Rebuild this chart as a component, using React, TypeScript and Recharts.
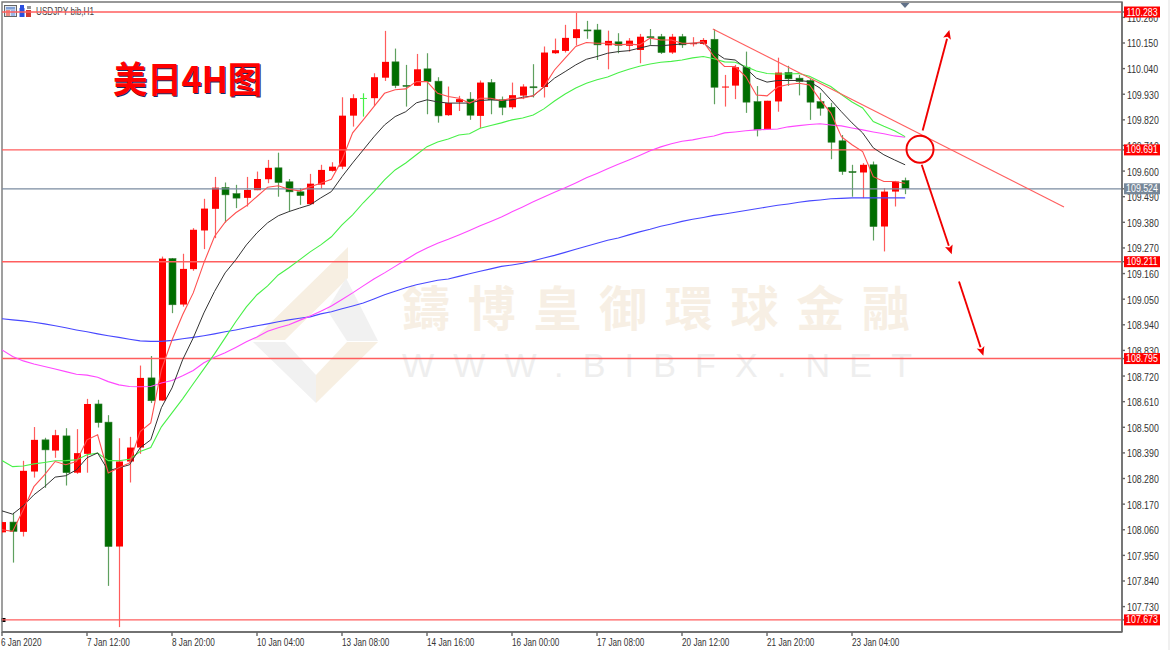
import React from 'react';
import { ComposedChart, Bar, Line, XAxis, YAxis, ReferenceLine, ReferenceDot, ReferenceArea } from 'recharts';

const opens = [108.049,108.093,108.051,108.310,108.446,108.400,108.463,108.305,108.386,108.600,
108.522,107.988,108.353,108.413,108.712,108.615,109.224,109.027,109.179,109.345,
109.438,109.529,109.503,109.485,109.518,109.565,109.614,109.554,109.511,109.458,
109.542,109.601,109.619,109.838,109.914,109.913,110.001,110.069,109.968,109.966,
110.039,109.986,109.840,109.896,109.909,109.837,109.980,109.906,109.874,109.924,
109.962,109.961,110.106,110.116,110.171,110.206,110.206,110.140,110.155,110.138,
110.120,110.177,110.177,110.109,110.177,110.145,110.146,110.166,109.959,109.967,
110.046,109.898,109.780,109.899,110.023,109.999,109.989,109.898,109.874,109.730,
109.598,109.594,109.627,109.362,109.512,109.559];
const highs = [108.094,108.133,108.356,108.501,108.455,108.489,108.496,108.492,108.622,108.618,
108.552,108.453,108.459,108.765,108.806,109.233,109.227,109.245,109.355,109.481,
109.575,109.551,109.541,109.575,109.598,109.648,109.679,109.566,109.527,109.588,
109.627,109.638,109.917,109.930,109.934,110.020,110.202,110.126,110.056,110.103,
110.106,110.003,109.963,109.923,109.939,109.989,109.995,109.920,109.980,109.973,
110.059,110.135,110.169,110.228,110.279,110.245,110.232,110.203,110.192,110.171,
110.189,110.210,110.189,110.189,110.189,110.175,110.171,110.210,110.013,110.056,
110.113,109.965,109.902,110.087,110.052,110.013,109.996,109.936,109.893,109.755,
109.627,109.634,109.641,109.527,109.558,109.572];
const lows = [108.047,107.919,108.031,108.284,108.240,108.369,108.250,108.300,108.305,108.499,
107.819,107.642,108.263,108.386,108.604,108.614,108.990,109.018,109.172,109.265,
109.312,109.379,109.441,109.448,109.518,109.548,109.490,109.429,109.455,109.455,
109.524,109.598,109.608,109.791,109.834,109.880,109.987,109.956,109.877,109.966,
109.844,109.808,109.837,109.858,109.820,109.784,109.844,109.840,109.866,109.909,
109.916,109.916,110.103,110.109,110.139,110.168,110.077,110.037,110.106,110.113,
110.063,110.142,110.103,110.103,110.129,110.135,110.142,109.887,109.877,109.909,
109.850,109.749,109.780,109.855,109.966,109.925,109.820,109.838,109.651,109.584,
109.490,109.484,109.302,109.255,109.448,109.501];
const closes = [108.093,108.053,108.313,108.446,108.403,108.466,108.305,108.389,108.600,108.520,
107.988,108.353,108.413,108.712,108.614,109.224,109.026,109.180,109.348,109.439,
109.529,109.498,109.484,109.519,109.566,109.614,109.551,109.511,109.495,109.546,
109.605,109.619,109.838,109.913,109.912,110.003,110.069,109.967,109.966,110.037,
109.984,109.837,109.892,109.909,109.840,109.980,109.906,109.874,109.926,109.963,
109.960,110.109,110.119,110.172,110.209,110.204,110.142,110.159,110.140,110.160,
110.177,110.174,110.109,110.177,110.142,110.149,110.163,109.960,109.963,110.046,
109.896,109.777,109.902,110.023,109.996,109.985,109.896,109.870,109.724,109.598,
109.596,109.627,109.362,109.512,109.555,109.524];

const maRed = [108.060,108.053,108.146,108.245,108.296,108.353,108.339,108.353,108.446,108.468,
108.304,108.326,108.347,108.482,108.519,108.747,108.875,108.983,109.077,109.206,
109.319,109.381,109.421,109.451,109.491,109.531,109.537,109.522,109.515,109.533,
109.548,109.565,109.648,109.764,109.820,109.877,109.934,109.949,109.953,109.984,
109.984,109.934,109.920,109.913,109.892,109.913,109.913,109.903,109.913,109.913,
109.923,109.963,110.034,110.085,110.135,110.152,110.149,110.149,110.142,110.145,
110.142,110.171,110.163,110.163,110.149,110.149,110.156,110.092,110.049,110.049,
110.006,109.927,109.923,109.961,109.972,109.977,109.970,109.906,109.850,109.748,
109.713,109.684,109.576,109.555,109.555,109.548];
const maBlack = [108.141,108.127,108.163,108.210,108.245,108.286,108.292,108.317,108.369,108.390,
108.313,108.326,108.339,108.412,108.446,108.584,108.669,108.790,108.884,108.991,
109.083,109.163,109.219,109.283,109.335,109.378,109.408,109.426,109.441,109.455,
109.485,109.512,109.576,109.635,109.691,109.747,109.798,109.834,109.855,109.893,
109.906,109.897,109.892,109.892,109.892,109.903,109.906,109.903,109.906,109.917,
109.923,109.960,109.999,110.027,110.056,110.080,110.092,110.106,110.113,110.117,
110.128,110.139,110.138,110.142,110.146,110.149,110.152,110.113,110.082,110.077,
110.042,109.999,109.982,109.989,109.989,109.989,109.984,109.956,109.906,109.855,
109.807,109.764,109.700,109.670,109.648,109.627];
const maLime = [108.357,108.331,108.334,108.343,108.349,108.356,108.357,108.360,108.382,108.389,
108.357,108.356,108.363,108.396,108.413,108.502,108.562,108.622,108.687,108.751,
108.815,108.884,108.953,109.017,109.069,109.107,109.154,109.185,109.219,109.253,
109.283,109.318,109.369,109.412,109.464,109.511,109.562,109.605,109.635,109.670,
109.705,109.725,109.738,109.755,109.760,109.784,109.796,109.807,109.820,109.828,
109.841,109.867,109.901,109.931,109.957,109.977,109.992,110.004,110.022,110.037,
110.050,110.060,110.067,110.071,110.077,110.086,110.092,110.082,110.069,110.067,
110.049,110.030,110.019,110.017,110.017,110.019,110.007,109.985,109.963,109.929,
109.897,109.871,109.813,109.792,109.773,109.748];
const maMagenta = [108.832,108.804,108.785,108.772,108.761,108.750,108.739,108.728,108.724,108.715,
108.696,108.682,108.675,108.674,108.675,108.690,108.701,108.721,108.744,108.777,
108.801,108.820,108.843,108.867,108.888,108.912,108.927,108.940,108.959,108.978,
108.998,109.021,109.049,109.077,109.107,109.137,109.163,109.191,109.219,109.247,
109.270,109.290,109.307,109.326,109.345,109.365,109.384,109.403,109.425,109.446,
109.468,109.489,109.509,109.528,109.549,109.571,109.590,109.610,109.629,109.648,
109.667,109.687,109.704,109.717,109.728,109.734,109.743,109.751,109.764,109.768,
109.773,109.777,109.779,109.781,109.790,109.795,109.800,109.803,109.798,109.794,
109.785,109.777,109.768,109.760,109.751,109.745];
const maBlue = [108.966,108.961,108.957,108.951,108.944,108.936,108.927,108.918,108.910,108.901,
108.893,108.886,108.878,108.871,108.869,108.869,108.873,108.880,108.886,108.893,
108.901,108.910,108.918,108.927,108.936,108.944,108.953,108.961,108.968,108.974,
108.987,108.996,109.009,109.021,109.034,109.051,109.069,109.084,109.099,109.112,
109.122,109.131,109.137,109.148,109.159,109.170,109.180,109.191,109.197,109.204,
109.215,109.227,109.238,109.251,109.264,109.277,109.290,109.303,109.313,109.326,
109.339,109.350,109.363,109.373,109.384,109.393,109.401,109.410,109.416,109.423,
109.431,109.438,109.446,109.453,109.459,109.466,109.472,109.476,109.481,109.483,
109.485,109.485,109.485,109.485,109.485,109.485];

const xTickLabels = ['6 Jan 2020','7 Jan 12:00','8 Jan 20:00','10 Jan 04:00','13 Jan 08:00','14 Jan 16:00','16 Jan 00:00','17 Jan 08:00','20 Jan 12:00','21 Jan 20:00','23 Jan 04:00'];
const xTicks = xTickLabels.map((_, i) => i * 8);
const yTicks = [110.26,110.15,110.04,109.93,109.82,109.71,109.6,109.49,109.38,109.27,109.16,109.05,108.94,108.83,108.72,108.61,108.5,108.39,108.28,108.17,108.06,107.95,107.84,107.73];
const redLevels = [110.283, 109.691, 109.211, 108.795, 107.673];
const lastPrice = 109.524;
const X_DOMAIN: [number, number] = [0, 105.41];
const Y_DOMAIN: [number, number] = [107.621, 110.326];
const brightDoji = [34];

const trendLine = [{ x: 66.9, y: 110.21 }, { x: 99.95, y: 109.446 }];
const arrows = [
  [{ x: 86.65, y: 109.774 }, { x: 89.16, y: 110.206 }],
  [{ x: 86.56, y: 109.627 }, { x: 89.38, y: 109.243 }],
  [{ x: 90.07, y: 109.126 }, { x: 92.36, y: 108.807 }],
];
const circleMark = { x: 86.4, y: 109.694 };

const data = opens.map((o, i) => ({
  idx: i,
  open: o,
  high: highs[i],
  low: lows[i],
  close: closes[i],
  range: [lows[i], highs[i]],
  red: maRed[i],
  black: maBlack[i],
  lime: maLime[i],
  magenta: maMagenta[i],
  blue: maBlue[i],
}));

const AXIS_FONT = '"Liberation Sans",Arial,sans-serif';

function Candle(props: any) {
  const { x, y, width, height, payload } = props;
  const top = Math.min(y, y + height);
  const span = Math.abs(height);
  const k = span / Math.max(payload.high - payload.low, 0.0001);
  const cx = Math.round(x + width / 2) + 0.5;
  const bull = payload.close >= payload.open;
  const bodyTop = top + (payload.high - Math.max(payload.open, payload.close)) * k;
  const bodyH = Math.max(Math.abs(payload.open - payload.close) * k, 1);
  const bright = brightDoji.includes(payload.idx);
  const wick = bright ? '#44f044' : bull ? '#ff5c5c' : '#5fa05f';
  const fill = bright ? '#44f044' : bull ? '#ff0000' : '#006e00';
  return (
    <g>
      <line x1={cx} x2={cx} y1={top} y2={top + span} stroke={wick} strokeWidth={1.2} />
      <rect x={cx - 3.5} y={bodyTop} width={7} height={bodyH} fill={fill} stroke={bull || bright ? 'none' : '#2f7a2f'} strokeWidth={0.6} />
    </g>
  );
}

function Arrow(props: any) {
  const { x1, y1, x2, y2 } = props;
  const dx = x2 - x1;
  const dy = y2 - y1;
  const len = Math.hypot(dx, dy) || 1;
  const ux = dx / len;
  const uy = dy / len;
  const bx = x2 - ux * 9;
  const by = y2 - uy * 9;
  return (
    <g>
      <line x1={x1} y1={y1} x2={bx} y2={by} stroke="#f00000" strokeWidth={1.9} />
      <polygon points={`${x2},${y2} ${bx - uy * 4},${by + ux * 4} ${bx + ux * 2},${by + uy * 2} ${bx + uy * 4},${by - ux * 4}`} fill="#f00000" />
    </g>
  );
}

function XTick({ x, y, payload }: any) {
  const px = payload.value === 0 ? x - 1 : x;
  return (
    <text transform={`translate(${px},${y + 8}) scale(0.82,1)`} x={0} y={0} textAnchor="start" fontSize={10} fontFamily={AXIS_FONT} fill="#333">
      {xTickLabels[payload.value / 8]}
    </text>
  );
}

function YTick({ x, y, payload }: any) {
  const v = payload.value;
  const isLast = v === lastPrice;
  const isTag = isLast || redLevels.includes(v);
  if (isTag) {
    return (
      <g>
        <rect x={x - 3} y={y - 5.5} width={36} height={11} fill={isLast ? '#778899' : '#ff0000'} />
        <text transform={`translate(${x + 15},${y + 3.6}) scale(0.88,1)`} x={0} y={0} textAnchor="middle" fontSize={10} fontFamily={AXIS_FONT} fill="#fff">{v.toFixed(3)}</text>
      </g>
    );
  }
  return (
    <text transform={`translate(${x},${y + 4.5}) scale(0.88,1)`} x={0} y={0} textAnchor="start" fontSize={10} fontFamily={AXIS_FONT} fill="#333">
      {v.toFixed(3)}
    </text>
  );
}

const wmChars = '鑄博皇御環球金融'.split('');

function Backdrop() {
  return (
    <g>
      <rect x={1168} y={0} width={2} height={650} fill="#f0f0f0" />
      <polygon points="348,247 348,278 285,340 253,340" fill="#f7efe2" />
      <polygon points="253,342 285,342 316,375 316,403" fill="#f1f1f1" />
      <polygon points="327,310 346,278 378,341 347,341" fill="#f1f1f1" />
      <polygon points="347,342 378,342 316,403 316,375" fill="#f7efe2" />
      {wmChars.map((c, i) => (
        <text key={c} x={426 + i * 65.7} y={326} textAnchor="middle" fontSize={48} fontWeight={700} fontFamily='"Noto Sans CJK TC",sans-serif' fill="#f7efe4">{c}</text>
      ))}
      <text x={402} y={377} fontSize={34} fontFamily='"Liberation Sans",sans-serif' fill="#eeeeee" textLength={510} lengthAdjust="spacing">WWW.BIBFX.NET</text>
    </g>
  );
}

function Overlay() {
  return (
    <g>
      <rect x={4.5} y={5.5} width={12} height={11} fill="#dfe6f2" stroke="#666" />
      <rect x={6} y={7} width={9} height={2.5} fill="#7fa0d8" />
      <rect x={6} y={10} width={4} height={6} fill="#e98a80" />
      <rect x={11} y={10} width={4} height={6} fill="#9db8e8" />
      <rect x={19.5} y={8} width={5} height={9} fill="#2a4ee0" />
      <rect x={26} y={10} width={5} height={7} fill="#d23a30" />
      <rect x={20} y={5} width={4} height={3} fill="#2a4ee0" />
      <rect x={27} y={6} width={4} height={3} fill="#999" />
      <text transform="translate(36,15) scale(0.82,1)" x={0} y={0} fontSize={10} fontFamily={AXIS_FONT} fill="#444">USDJPY bib,H1</text>
      <polygon points="900.5,3 909.5,3 905,8" fill="#607088" />
      <rect x={1.5} y={618} width={4} height={4} fill="#000" />
      {[[1, 1, '#1a2c66'], [0, 0, '#ff0000']].map(([dx, dy, col], i) => (
        <text key={i} x={113 + (dx as number)} y={93 + (dy as number)} fontSize={36} fontWeight={700} fontFamily='"Noto Sans CJK SC",sans-serif' fill={col as string} textLength={149} lengthAdjust="spacingAndGlyphs">美日4H图</text>
      ))}
    </g>
  );
}

export default function App() {
  return (
    <div style={{ position: 'fixed', left: 0, top: 0, width: 1170, height: 650, background: '#fff' }}>
      <ComposedChart width={1170} height={650} data={data} margin={{ top: 2, right: 0, bottom: 0, left: 2 }}>
        <Backdrop />
        <XAxis dataKey="idx" type="number" domain={X_DOMAIN} ticks={xTicks} allowDataOverflow height={18} tickSize={4} interval={0} stroke="#666" strokeWidth={1.4} tick={<XTick />} />
        <YAxis type="number" orientation="right" domain={Y_DOMAIN} ticks={[...yTicks, ...redLevels, lastPrice]} allowDataOverflow width={48} tickSize={3} interval={0} stroke="#666" strokeWidth={1.4} tick={<YTick />} />
        <ReferenceArea x1={X_DOMAIN[0]} x2={X_DOMAIN[1]} y1={Y_DOMAIN[0]} y2={Y_DOMAIN[1]} fill="none" stroke="#777" strokeWidth={1.4} ifOverflow="visible" />
        {redLevels.map((v) => (
          <ReferenceLine key={v} y={v} stroke="#ff5e5e" strokeWidth={1.4} />
        ))}
        <ReferenceLine y={lastPrice} stroke="#7b8ba0" strokeWidth={1.3} />
        <Bar dataKey="range" barSize={7} shape={<Candle />} isAnimationActive={false} />
        <Line dataKey="blue" stroke="#4848ff" strokeWidth={1.1} dot={false} isAnimationActive={false} />
        <Line dataKey="magenta" stroke="#ff48ff" strokeWidth={1.1} dot={false} isAnimationActive={false} />
        <Line dataKey="lime" stroke="#48f048" strokeWidth={1.1} dot={false} isAnimationActive={false} />
        <Line dataKey="black" stroke="#333333" strokeWidth={1} dot={false} isAnimationActive={false} />
        <Line dataKey="red" stroke="#ff5050" strokeWidth={1.1} dot={false} isAnimationActive={false} />
        <ReferenceLine segment={trendLine} stroke="#ff5e5e" strokeWidth={1.1} ifOverflow="visible" />
        {arrows.map((seg, i) => (
          <ReferenceLine key={i} segment={seg} ifOverflow="visible" shape={<Arrow />} />
        ))}
        <ReferenceDot x={circleMark.x} y={circleMark.y} r={13.5} fill="none" stroke="#f00000" strokeWidth={2} ifOverflow="visible" />
        <Overlay />
      </ComposedChart>
    </div>
  );
}
